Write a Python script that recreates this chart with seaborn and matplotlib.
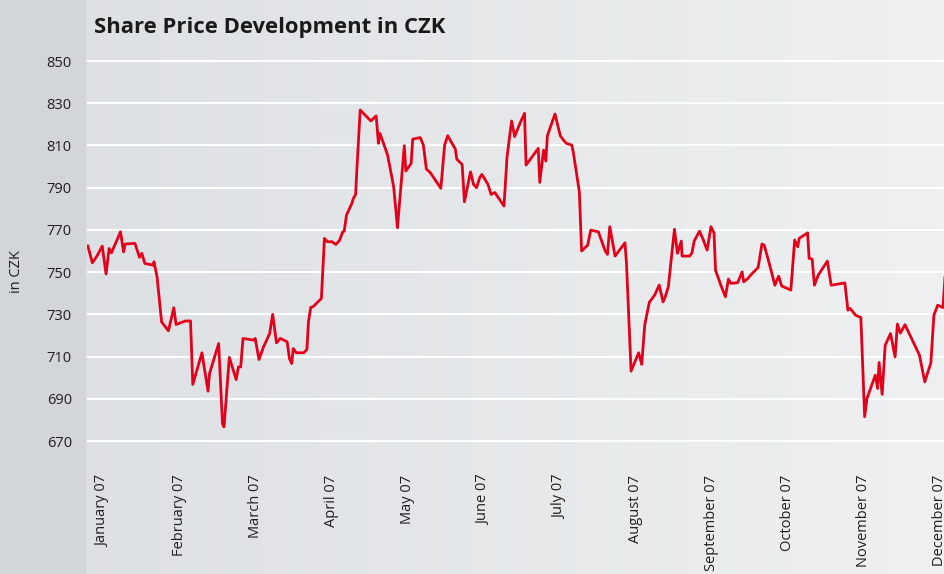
import numpy as np
import pandas as pd
import matplotlib
matplotlib.use("Agg")
import matplotlib.pyplot as plt
import seaborn as sns

# month position (0 = start of January 2007) and share price in CZK
month_pos = [-0.20, -0.14, -0.08, -0.01, 0.04, 0.08, 0.11, 0.23, 0.27, 0.29,
             0.42, 0.48, 0.51, 0.55, 0.66, 0.67, 0.71, 0.77, 0.86, 0.93,
             0.96, 1.08, 1.15, 1.18, 1.30, 1.38, 1.40, 1.52, 1.57, 1.59,
             1.66, 1.75, 1.78, 1.81, 1.84, 1.98, 2.00, 2.05, 2.11, 2.19,
             2.23, 2.28, 2.33, 2.42, 2.45, 2.48, 2.50, 2.54, 2.64, 2.68,
             2.70, 2.73, 2.76, 2.87, 2.91, 2.95, 3.01, 3.06, 3.11, 3.15,
             3.17, 3.20, 3.27, 3.29, 3.32, 3.34, 3.38, 3.52, 3.59, 3.62,
             3.64, 3.74, 3.82, 3.87, 3.96, 3.98, 4.05, 4.07, 4.17, 4.21,
             4.25, 4.30, 4.44, 4.49, 4.53, 4.63, 4.65, 4.72, 4.75, 4.83,
             4.87, 4.91, 4.95, 4.98, 5.06, 5.10, 5.15, 5.27, 5.31, 5.37,
             5.41, 5.48, 5.54, 5.56, 5.72, 5.74, 5.79, 5.82, 5.84, 5.94,
             6.01, 6.05, 6.09, 6.16, 6.18, 6.26, 6.29, 6.37, 6.41, 6.51,
             6.60, 6.63, 6.66, 6.73, 6.86, 6.88, 6.94, 7.04, 7.08, 7.12,
             7.18, 7.25, 7.31, 7.36, 7.39, 7.43, 7.51, 7.55, 7.60, 7.61,
             7.71, 7.74, 7.77, 7.84, 7.89, 7.94, 7.99, 8.03, 8.05, 8.12,
             8.18, 8.22, 8.25, 8.34, 8.40, 8.42, 8.47, 8.52, 8.61, 8.66,
             8.69, 8.78, 8.83, 8.88, 8.92, 9.04, 9.09, 9.13, 9.15, 9.26,
             9.28, 9.32, 9.35, 9.40, 9.52, 9.57, 9.75, 9.79, 9.82, 9.89,
             9.96, 10.01, 10.04, 10.15, 10.18, 10.20, 10.24, 10.28, 10.35, 10.41,
             10.44, 10.48, 10.54, 10.73, 10.80, 10.88, 10.92, 10.97, 11.04, 11.07]
price = [762.5, 754.4, 757.6, 762.3, 749.1, 761.2, 759.1, 769.1, 759.6, 763.3,
         763.6, 757.0, 758.9, 754.1, 753.3, 754.9, 747.8, 726.4, 722.2, 733.1,
         725.2, 726.8, 726.9, 696.8, 711.8, 693.6, 702.0, 716.2, 678.3, 676.7,
         709.6, 699.1, 705.1, 705.1, 718.6, 717.8, 718.6, 708.6, 714.6, 720.9,
         730.0, 716.5, 718.6, 717.0, 709.1, 706.7, 713.8, 711.8, 711.8, 713.4,
         726.4, 733.3, 733.6, 737.5, 766.0, 764.4, 764.4, 763.1, 765.1, 769.1,
         769.4, 777.0, 782.5, 784.9, 786.8, 801.0, 826.8, 821.6, 824.0, 811.0,
         815.7, 805.5, 790.4, 771.0, 809.9, 797.9, 801.5, 813.0, 813.7, 810.2,
         798.8, 797.2, 789.7, 810.2, 814.6, 808.3, 803.5, 801.0, 783.3, 797.5,
         791.5, 790.0, 794.7, 796.3, 791.5, 786.8, 787.7, 781.3, 804.6, 821.6,
         814.2, 820.5, 825.2, 800.7, 808.6, 792.5, 807.8, 802.6, 814.6, 824.9,
         814.6, 812.6, 811.0, 810.2, 807.0, 788.1, 760.0, 762.8, 769.9, 769.1,
         760.0, 758.4, 771.5, 757.6, 763.9, 754.1, 703.1, 711.8, 706.3, 725.0,
         735.7, 739.1, 743.9, 735.9, 738.4, 743.1, 770.3, 758.9, 764.7, 757.6,
         757.6, 759.1, 764.8, 769.4, 765.2, 760.4, 771.5, 768.6, 750.9, 743.8,
         738.3, 746.7, 744.7, 745.0, 750.1, 745.4, 746.8, 748.9, 752.2, 763.3,
         762.8, 750.9, 743.8, 748.1, 743.4, 741.5, 765.2, 762.0, 766.0, 768.6,
         756.5, 756.2, 743.8, 748.6, 755.2, 743.8, 744.9, 732.0, 732.8, 729.6,
         728.5, 681.5, 690.1, 701.2, 694.9, 707.2, 692.1, 715.4, 720.9, 709.8,
         725.4, 721.1, 725.1, 710.7, 698.0, 707.0, 729.6, 734.3, 733.2, 750.1]

month_labels = ["January 07", "February 07", "March 07", "April 07", "May 07",
                "June 07", "July 07", "August 07", "September 07", "October 07",
                "November 07", "December 07"]
y_ticks = [670, 690, 710, 730, 750, 770, 790, 810, 830, 850]

df = pd.DataFrame({"month": month_pos, "price": price})

sns.set_style("white")
plt.rcParams["font.family"] = ["Open Sans", "DejaVu Sans"]

fig = plt.figure(figsize=(9.45, 5.74), dpi=100)

# background: gradient panel plus darker strip on the left
bg = fig.add_axes([0, 0, 1, 1], zorder=-10)
grad = np.linspace(0, 1, 256).reshape(1, -1)
cmap = matplotlib.colors.LinearSegmentedColormap.from_list("bg", ["#dcdfe2", "#eef0f1"])
bg.imshow(grad, aspect="auto", cmap=cmap, extent=[0, 1, 0, 1])
bg.add_patch(plt.Rectangle((0, 0), 86 / 945, 1, color="#d2d6d9", lw=0))
bg.set_xlim(0, 1)
bg.set_ylim(0, 1)
bg.axis("off")

ax = fig.add_axes([0.0921, 0.1949, 0.9079, 0.7172])
ax.set_facecolor("none")
sns.lineplot(data=df, x="month", y="price", ax=ax, color="#e2001a",
             linewidth=2.0, estimator=None, sort=False, zorder=3)

ax.set_xlim(-0.21, 11.066)
ax.set_ylim(660, 855)
ax.set_yticks(y_ticks)
ax.set_xticks(range(12))
ax.set_xticklabels(month_labels, rotation=90, fontsize=10.5, color="#1e1e1e")
ax.tick_params(axis="y", labelsize=10.5, labelcolor="#1e1e1e", length=0, pad=11)
ax.tick_params(axis="x", length=0, pad=9)
ax.grid(axis="y", color="white", linewidth=1.5)
ax.grid(axis="x", visible=False)
ax.set_axisbelow(True)
for s in ax.spines.values():
    s.set_visible(False)
ax.set_xlabel("")
ax.set_ylabel("")

fig.text(17 / 945, 1 - 272 / 574, "in CZK", rotation=90, ha="center",
         va="center", fontsize=10.5, color="#1e1e1e")
fig.text(94 / 945, 1 - 27 / 574, "Share Price Development in CZK",
         fontsize=15.8, fontweight="bold", color="#1a1a1a", va="center")

fig.savefig("out.png", dpi=100)
